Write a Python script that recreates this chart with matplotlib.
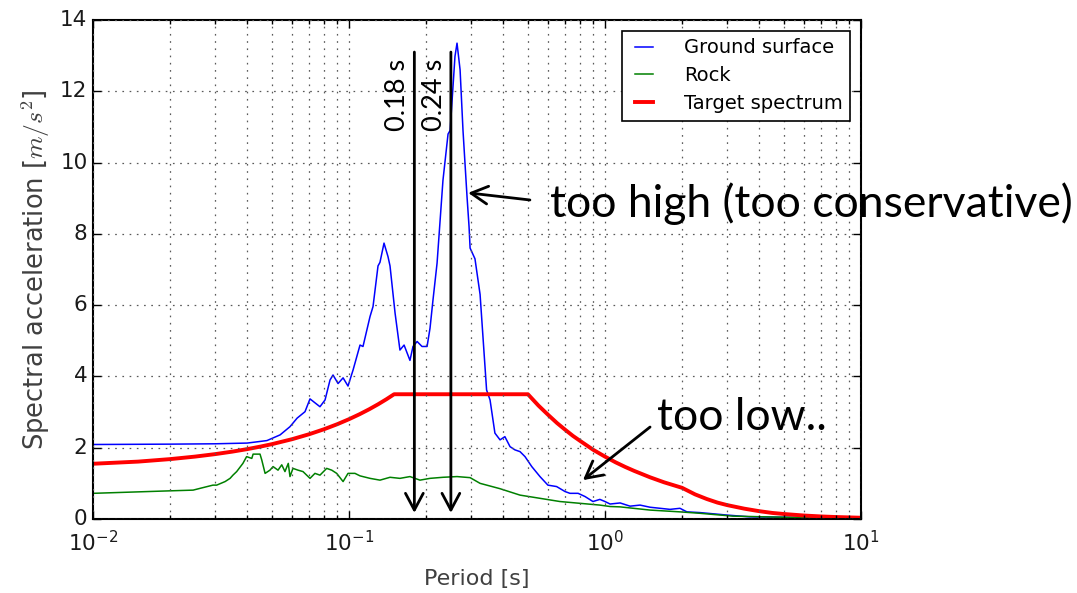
import numpy as np
import matplotlib
matplotlib.use('Agg')
import matplotlib.pyplot as plt

plt.style.use('classic')

# periods [s] and spectral accelerations [m/s^2]
t_ground = [0.010, 0.020, 0.030, 0.040, 0.0478, 0.0538, 0.0588, 0.0627, 0.0673,
            0.0704, 0.0736, 0.0770, 0.0806, 0.0843, 0.0866, 0.0906, 0.0948, 0.0991,
            0.1037, 0.1104, 0.1134, 0.1208, 0.1241, 0.1298, 0.1321, 0.1370, 0.1420,
            0.1446, 0.1513, 0.1581, 0.1641, 0.1730, 0.1778, 0.1845, 0.1928, 0.2018,
            0.2072, 0.2128, 0.2208, 0.2328, 0.2437, 0.2483, 0.2594, 0.2642, 0.2716,
            0.2788, 0.2891, 0.2944, 0.2972, 0.3105, 0.3251, 0.3447, 0.3556, 0.3715,
            0.3890, 0.4064, 0.4256, 0.4446, 0.4656, 0.4870, 0.5176, 0.5572, 0.5984,
            0.6471, 0.6982, 0.7295, 0.7852, 0.8356, 0.8974, 0.955, 1.0, 1.047, 1.146,
            1.253, 1.371, 1.500, 1.641, 1.795, 1.963, 2.089, 2.348, 3.0, 3.68, 4.95, 10.0]
sa_ground = [2.09, 2.10, 2.11, 2.13, 2.20, 2.36, 2.59, 2.83, 3.01,
             3.37, 3.26, 3.15, 3.34, 3.90, 4.04, 3.80, 3.96, 3.73,
             4.18, 4.88, 4.84, 5.68, 5.96, 7.10, 7.20, 7.74, 7.36,
             7.10, 5.78, 4.74, 4.88, 4.45, 4.84, 4.98, 4.84, 4.84,
             5.35, 6.14, 7.18, 9.50, 10.80, 10.90, 12.98, 13.35, 12.60,
             10.90, 9.04, 8.20, 7.60, 7.30, 6.30, 3.62, 3.34, 2.41,
             2.22, 2.31, 2.03, 1.94, 1.89, 1.75, 1.47, 1.19, 0.95,
             0.91, 0.77, 0.72, 0.72, 0.63, 0.49, 0.55, 0.49, 0.42, 0.45,
             0.36, 0.39, 0.33, 0.30, 0.27, 0.30, 0.20, 0.18, 0.11, 0.06, 0.05, 0.03]

t_rock = [0.010, 0.020, 0.0246, 0.0262, 0.0294, 0.0304, 0.0328, 0.0343, 0.0352,
          0.0364, 0.0385, 0.0398, 0.0417, 0.0422, 0.0449, 0.0456, 0.0470, 0.0491,
          0.0505, 0.0528, 0.0546, 0.0562, 0.0579, 0.0588, 0.0604, 0.0632, 0.0661,
          0.0704, 0.0736, 0.0770, 0.0818, 0.0856, 0.0895, 0.0948, 0.0991, 0.1055,
          0.1104, 0.1208, 0.1321, 0.1446, 0.1581, 0.1730, 0.1893, 0.2072, 0.2328,
          0.2642, 0.2972, 0.3251, 0.3890, 0.4656, 0.5572, 0.6668, 0.7980, 0.955,
          1.047, 1.146, 1.500, 1.963, 2.348, 3.16, 4.95, 10.0]
sa_rock = [0.72, 0.79, 0.81, 0.86, 0.95, 0.95, 1.05, 1.14, 1.23,
           1.33, 1.56, 1.75, 1.70, 1.82, 1.82, 1.66, 1.28, 1.37,
           1.47, 1.37, 1.52, 1.33, 1.56, 1.19, 1.42, 1.37, 1.33,
           1.14, 1.28, 1.23, 1.42, 1.37, 1.28, 1.05, 1.28, 1.28,
           1.21, 1.14, 1.09, 1.17, 1.14, 1.19, 1.09, 1.14, 1.17,
           1.19, 1.16, 1.00, 0.85, 0.67, 0.58, 0.49, 0.44, 0.39,
           0.35, 0.34, 0.25, 0.20, 0.16, 0.08, 0.05, 0.02]

t_target = [0.01, 0.015, 0.02, 0.025, 0.03, 0.035, 0.04, 0.045, 0.05, 0.06, 0.07,
            0.08, 0.09, 0.10, 0.11, 0.12, 0.13, 0.14, 0.15,
            0.50, 0.55, 0.60, 0.65, 0.70, 0.75, 0.80, 0.90, 1.0, 1.1, 1.2, 1.3,
            1.5, 1.7, 2.0, 2.25, 2.5, 2.75, 3.0, 3.5, 4.0, 4.5, 5.0, 6.0,
            7.0, 8.0, 10.0]
sa_target = [1.55, 1.61, 1.68, 1.75, 1.82, 1.89, 1.96, 2.03, 2.10, 2.24, 2.38,
             2.52, 2.66, 2.80, 2.94, 3.08, 3.22, 3.36, 3.50,
             3.50, 3.18, 2.92, 2.69, 2.50, 2.33, 2.19, 1.94, 1.75, 1.59, 1.46, 1.35,
             1.17, 1.03, 0.875, 0.69, 0.56, 0.46, 0.39, 0.29, 0.22, 0.17, 0.14, 0.097,
             0.071, 0.055, 0.035]

# marked periods
mark_t = [0.18, 0.25]
mark_labels = ['0.18 s', '0.24 s']

fig = plt.figure(figsize=(10.77, 5.93), dpi=100, facecolor='white')
ax = fig.add_axes([0.0864, 0.1248, 0.7130, 0.8415])
ax.set_facecolor('white')

ax.plot(t_ground, sa_ground, color='b', lw=1.1, label='Ground surface')
ax.plot(t_rock, sa_rock, color='g', lw=1.1, label='Rock')
ax.plot(t_target, sa_target, color='r', lw=2.8, label='Target spectrum')

ax.set_xscale('log')
ax.set_xlim(0.01, 10)
ax.set_ylim(0, 14)
ax.set_yticks(np.arange(0, 15, 2))

ax.grid(True, which='both', axis='x', color='0.35', linestyle=(0, (1.2, 4)), lw=0.9)
ax.grid(True, which='major', axis='y', color='0.35', linestyle=(0, (1.2, 4)), lw=0.9)

for s in ax.spines.values():
    s.set_linewidth(1.5)
ax.tick_params(which='both', direction='in', top=True, right=True, labelsize=15.5,
               labelcolor='0.1')
ax.tick_params(which='major', length=6, width=1)
ax.tick_params(which='minor', length=3, width=1)
ax.tick_params(axis='x', pad=8)

ax.set_xlabel('Period [s]', fontsize=16, color='0.25', labelpad=10)
ax.set_ylabel('Spectral acceleration [$m/s^2$]', fontsize=18.5, color='0.25', labelpad=6)

leg = ax.legend(loc='upper right', fontsize=14, handlelength=1.5, handletextpad=1.3,
                borderaxespad=0.55, labelspacing=0.45, fancybox=False)
leg.get_frame().set_edgecolor('black')
leg.get_frame().set_linewidth(1.2)

ann_font = ['Lato', 'DejaVu Sans']
arrow = dict(arrowstyle='->,head_length=0.6,head_width=0.32', color='black', lw=2,
             shrinkA=0, shrinkB=0, mutation_scale=20)

for t, lab in zip(mark_t, mark_labels):
    ax.annotate('', xy=(t, 0.17), xytext=(t, 13.1), arrowprops=arrow)
    ax.annotate(lab, xy=(t, 12.9), xytext=(-3, 0), textcoords='offset points',
                rotation=90, ha='right', va='top', fontsize=19.5, family=ann_font)

ax.annotate('', xy=(0.292, 9.15), xytext=(0.509, 8.95), arrowprops=arrow,
            annotation_clip=False)
ax.annotate('', xy=(0.82, 1.09), xytext=(1.50, 2.58), arrowprops=arrow,
            annotation_clip=False)

fig.text(0.511, 0.634, 'too high (too conservative)', fontsize=32, family=ann_font,
         va='baseline')
fig.text(0.610, 0.275, 'too low..', fontsize=32, family=ann_font, va='baseline')

fig.savefig('out.png', dpi=100, facecolor='white')
